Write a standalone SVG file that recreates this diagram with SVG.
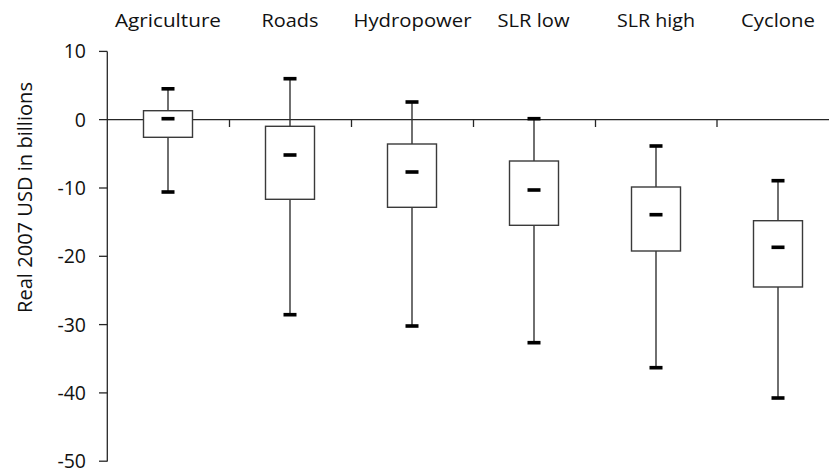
<svg xmlns="http://www.w3.org/2000/svg" width="829" height="472" viewBox="0 0 829 472">
<style>
.ax{stroke:#262626;stroke-width:1.3;fill:none}
.bx{stroke:#3a3a3a;stroke-width:1.4;fill:#fff}
.wh{stroke:#333;stroke-width:1.4}
.cap{fill:#000}
.cat{font-family:"Open Sans","Noto Sans",sans-serif;font-size:18.5px;fill:#111;text-anchor:middle}
.tk{font-family:"Open Sans","Noto Sans",sans-serif;font-size:19.5px;fill:#111;text-anchor:end}
.yl{font-family:"Open Sans","Noto Sans",sans-serif;font-size:19.5px;fill:#111;text-anchor:middle}
</style>
<rect width="829" height="472" fill="#fff"/>
<g id="axes">
<line class="ax" x1="107.3" y1="51.4" x2="107.3" y2="461.5"/>
<line class="ax" x1="99" y1="51.4" x2="107.3" y2="51.4"/>
<line class="ax" x1="99" y1="119.7" x2="829" y2="119.7"/>
<line class="ax" x1="99" y1="188" x2="107.3" y2="188"/>
<line class="ax" x1="99" y1="256.3" x2="107.3" y2="256.3"/>
<line class="ax" x1="99" y1="324.6" x2="107.3" y2="324.6"/>
<line class="ax" x1="99" y1="392.9" x2="107.3" y2="392.9"/>
<line class="ax" x1="99" y1="461.2" x2="107.3" y2="461.2"/>
<line class="ax" x1="229.5" y1="119.7" x2="229.5" y2="127"/>
<line class="ax" x1="351.5" y1="119.7" x2="351.5" y2="127"/>
<line class="ax" x1="473.5" y1="119.7" x2="473.5" y2="127"/>
<line class="ax" x1="595.5" y1="119.7" x2="595.5" y2="127"/>
<line class="ax" x1="717" y1="119.7" x2="717" y2="127"/>
<text class="tk" x="86" y="58.4">10</text>
<text class="tk" x="86" y="126.7">0</text>
<text class="tk" x="86" y="195">-10</text>
<text class="tk" x="86" y="263.3">-20</text>
<text class="tk" x="86" y="331.6">-30</text>
<text class="tk" x="86" y="399.9">-40</text>
<text class="tk" x="86" y="467.6">-50</text>
<text class="yl" transform="translate(31.5,197.5) rotate(-90)" textLength="231" lengthAdjust="spacingAndGlyphs">Real 2007 USD in billions</text>
</g>
<g id="labels">
<text class="cat" x="168" y="26.5" textLength="106" lengthAdjust="spacingAndGlyphs">Agriculture</text>
<text class="cat" x="290" y="26.5" textLength="57" lengthAdjust="spacingAndGlyphs">Roads</text>
<text class="cat" x="412.5" y="26.5" textLength="118" lengthAdjust="spacingAndGlyphs">Hydropower</text>
<text class="cat" x="533.5" y="26.5" textLength="72" lengthAdjust="spacingAndGlyphs">SLR low</text>
<text class="cat" x="656" y="26.5" textLength="78" lengthAdjust="spacingAndGlyphs">SLR high</text>
<text class="cat" x="778" y="26.5" textLength="74" lengthAdjust="spacingAndGlyphs">Cyclone</text>
</g>
<g id="box-agriculture">
<line class="wh" x1="168" y1="88.8" x2="168" y2="192"/>
<rect class="bx" x="143.5" y="110.7" width="49" height="26.6"/>
<rect class="cap" x="161.5" y="87" width="13" height="3.6"/>
<rect class="cap" x="161.5" y="116.9" width="13" height="3.6"/>
<rect class="cap" x="161.5" y="190.2" width="13" height="3.6"/>
</g>
<g id="box-roads">
<line class="wh" x1="290" y1="78.7" x2="290" y2="314.7"/>
<rect class="bx" x="265.5" y="126.3" width="49" height="73"/>
<rect class="cap" x="283.5" y="76.9" width="13" height="3.6"/>
<rect class="cap" x="283.5" y="153.2" width="13" height="3.6"/>
<rect class="cap" x="283.5" y="312.9" width="13" height="3.6"/>
</g>
<g id="box-hydropower">
<line class="wh" x1="412" y1="102" x2="412" y2="326"/>
<rect class="bx" x="387.5" y="144" width="49" height="63.3"/>
<rect class="cap" x="405.5" y="100.2" width="13" height="3.6"/>
<rect class="cap" x="405.5" y="170.2" width="13" height="3.6"/>
<rect class="cap" x="405.5" y="324.2" width="13" height="3.6"/>
</g>
<g id="box-slr-low">
<line class="wh" x1="534" y1="118.7" x2="534" y2="342.7"/>
<rect class="bx" x="509.5" y="161" width="49" height="64.3"/>
<rect class="cap" x="527.5" y="116.9" width="13" height="3.6"/>
<rect class="cap" x="527.5" y="188.2" width="13" height="3.6"/>
<rect class="cap" x="527.5" y="340.9" width="13" height="3.6"/>
</g>
<g id="box-slr-high">
<line class="wh" x1="656" y1="146" x2="656" y2="367.7"/>
<rect class="bx" x="631.5" y="187" width="49" height="64"/>
<rect class="cap" x="649.5" y="144.2" width="13" height="3.6"/>
<rect class="cap" x="649.5" y="212.9" width="13" height="3.6"/>
<rect class="cap" x="649.5" y="365.9" width="13" height="3.6"/>
</g>
<g id="box-cyclone">
<line class="wh" x1="778" y1="180.7" x2="778" y2="398"/>
<rect class="bx" x="753.5" y="220.7" width="49" height="66.3"/>
<rect class="cap" x="771.5" y="178.9" width="13" height="3.6"/>
<rect class="cap" x="771.5" y="245.5" width="13" height="3.6"/>
<rect class="cap" x="771.5" y="396.2" width="13" height="3.6"/>
</g>
</svg>
